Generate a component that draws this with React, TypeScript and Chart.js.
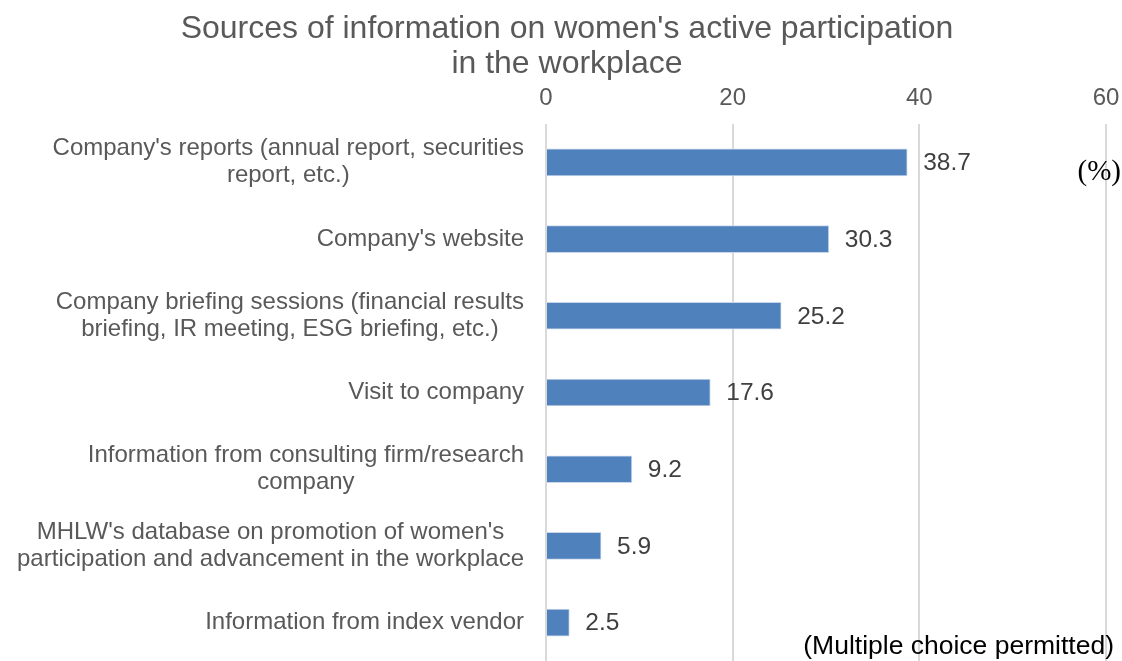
import React, { useEffect, useRef } from "react";
import { Chart, registerables } from "chart.js";

Chart.register(...registerables);

const categories: (string | string[])[] = [
  ["Company's reports (annual report, securities", "report, etc.)"],
  "Company's website",
  ["Company briefing sessions (financial results", "briefing, IR meeting, ESG briefing, etc.)"],
  "Visit to company",
  ["Information from consulting firm/research", "company"],
  ["MHLW's database on promotion of women's", "participation and advancement in the workplace"],
  "Information from index vendor",
];
const values = [38.7, 30.3, 25.2, 17.6, 9.2, 5.9, 2.5];
const xMin = 0;
const xMax = 60;
const xStep = 20;
const titleLines = ["Sources of information on women's active participation", "in the workplace"];
const unitLabel = "(%)";
const noteLabel = "(Multiple choice permitted)";

const SANS = '"Liberation Sans", Arial, sans-serif';
const SERIF = '"Liberation Serif", "Times New Roman", serif';

const overlay = {
  id: "overlay",
  afterDraw(chart: any) {
    const ctx = chart.ctx as CanvasRenderingContext2D;
    ctx.save();
    // title
    ctx.font = `32px ${SANS}`;
    ctx.fillStyle = "#595959";
    ctx.textAlign = "center";
    ctx.textBaseline = "middle";
    titleLines.forEach((t, i) => ctx.fillText(t, 567, 29 + i * 35));

    // category labels
    const yScale = chart.scales.y;
    ctx.font = `24px ${SANS}`;
    ctx.fillStyle = "#595959";
    categories.forEach((lab, i) => {
      const lines = Array.isArray(lab) ? lab : [lab];
      const y = yScale.getPixelForValue(i);
      const w = Math.max(...lines.map((l) => ctx.measureText(l).width));
      const cx = 524 - w / 2;
      lines.forEach((l, j) => ctx.fillText(l, cx, y + (j - (lines.length - 1) / 2) * 27));
    });

    // data labels
    const meta = chart.getDatasetMeta(0);
    ctx.textAlign = "left";
    ctx.fillStyle = "#404040";
    ctx.font = `24.5px ${SANS}`;
    meta.data.forEach((bar: any, i: number) => {
      ctx.fillText(values[i].toFixed(1), bar.x + 16, bar.y + 1);
    });

    // unit
    ctx.fillStyle = "#000000";
    ctx.font = `29px ${SERIF}`;
    ctx.textAlign = "right";
    ctx.fillText(unitLabel, 1121, 172);

    // note
    ctx.font = `26.5px ${SANS}`;
    ctx.textAlign = "right";
    ctx.textBaseline = "alphabetic";
    ctx.fillText(noteLabel, 1114, 654);
    ctx.restore();
  },
};

export default function App() {
  const ref = useRef<HTMLCanvasElement | null>(null);
  useEffect(() => {
    if (!ref.current) return;
    const chart = new Chart(ref.current, {
      type: "bar",
      data: {
        labels: categories.map((c) => (Array.isArray(c) ? c.join(" ") : c)),
        datasets: [
          {
            data: values,
            backgroundColor: "#4f81bd",
            borderColor: "#c9d6ea",
            borderWidth: 1,
            barThickness: 27,
          },
        ],
      },
      options: {
        indexAxis: "y",
        animation: false,
        responsive: false,
        layout: { padding: { left: 0, right: 16, top: 0, bottom: 0 } },
        plugins: {
          legend: { display: false },
          title: { display: false },
          tooltip: { enabled: false },
        },
        scales: {
          x: {
            position: "top",
            min: xMin,
            max: xMax,
            ticks: {
              stepSize: xStep,
              color: "#595959",
              font: { family: SANS, size: 24 },
              padding: 11,
            },
            grid: { color: "#d9d9d9", lineWidth: 2, drawTicks: false },
            border: { display: false },
            afterFit: (s: any) => {
              s.height = 124;
              s.paddingRight = 0;
              s.paddingLeft = 0;
            },
          },
          y: {
            ticks: { display: false },
            grid: { display: false, drawTicks: false },
            border: { display: false },
            afterFit: (s: any) => {
              s.width = 546;
              s.paddingTop = 0;
              s.paddingBottom = 0;
            },
          },
        },
      },
      plugins: [overlay],
    });
    return () => chart.destroy();
  }, []);
  return (
    <div style={{ position: "absolute", left: 0, top: 0, width: 1122, height: 661, background: "#fff" }}>
      <canvas ref={ref} width={1122} height={661} style={{ display: "block" }} />
    </div>
  );
}
